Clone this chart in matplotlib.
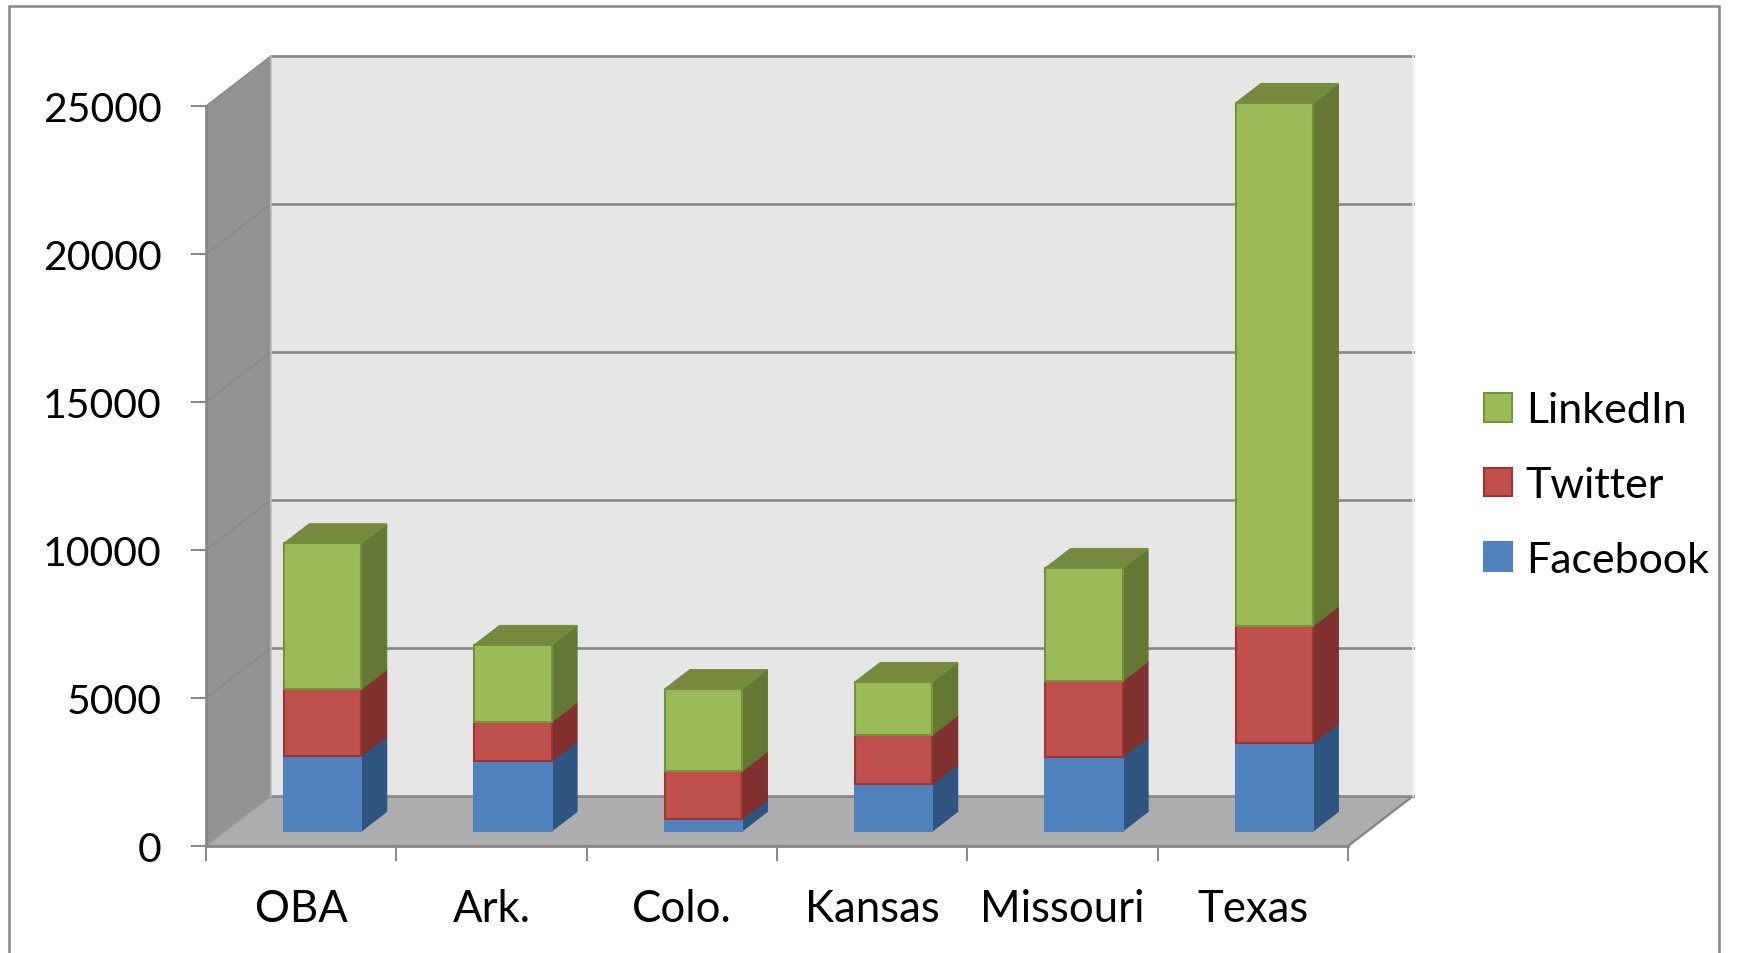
"""
Stacked bars with a fake 3D box look (old Excel style).
"""

import matplotlib
matplotlib.use("Agg")
import matplotlib.pyplot as plt
from matplotlib.patches import Patch, Rectangle

plt.rcParams["font.family"] = ["Lato", "DejaVu Sans"]

states = ["OBA", "Ark.", "Colo.", "Kansas", "Missouri", "Texas"]
facebook = [2530, 2365, 405, 1590, 2500, 2970]
twitter = [2260, 1320, 1620, 1655, 2570, 3955]
linkedin = [4930, 2600, 2770, 1790, 3815, 17670]
y_ticks = [0, 5000, 10000, 15000, 20000, 25000]

GREY = "#868686"
W, H = 1741, 954

fig = plt.figure(figsize=(W / 100, H / 100), dpi=100, facecolor="white")
ax = fig.add_axes([206 / W, 1 - 847 / H, 1142 / W, 740 / H])
ax.set_xlim(0, 6)
ax.set_ylim(0, 25000)
ax.patch.set_visible(False)
for s in ax.spines.values():
    s.set_visible(False)

# depth of the box: pixels converted to data units
DX = 65 / (1142 / 6)
DY = 50 / (740 / 25000)


def proj(x, y, d):
    return x + d * DX, y + d * DY


def poly(points, color, edge=None, lw=0, z=1):
    xs = [proj(*p)[0] for p in points]
    ys = [proj(*p)[1] for p in points]
    ax.fill(xs, ys, facecolor=color, edgecolor=edge or color, linewidth=lw,
            zorder=z, clip_on=False, joinstyle="miter")


# walls and floor
poly([(0, 0, 1), (6, 0, 1), (6, 25000, 1), (0, 25000, 1)], "#E6E6E6", z=1)
poly([(0, 0, 0), (0, 0, 1), (0, 25000, 1), (0, 25000, 0)], "#939393", z=1)
poly([(0, 0, 0), (6, 0, 0), (6, 0, 1), (0, 0, 1)], "#ADADAD", z=1)

# gridlines on the back wall and the side wall
for v in y_ticks:
    x0, y0 = proj(0, v, 0)
    x1, y1 = proj(0, v, 1)
    x2, y2 = proj(6, v, 1)
    ax.plot([x0, x1], [y0, y1], color="#8A8A8A" if v else "#9A9A9A", lw=1.0, zorder=2, clip_on=False)
    ax.plot([x1, x2], [y1, y2], color=GREY, lw=1.9, zorder=2, clip_on=False)

# box edges
ax.plot([0, 0], [0, 25000], color=GREY, lw=1.9, zorder=2, clip_on=False)
ax.plot([0, 6], [0, 0], color=GREY, lw=2.0, zorder=2, clip_on=False)
fx, fy = proj(6, 0, 1)
ax.plot([6, fx], [0, fy], color=GREY, lw=1.7, zorder=2, clip_on=False)
bx, by = proj(0, 0, 1)
tx, ty = proj(0, 25000, 1)
ax.plot([bx, tx], [by, ty], color="#BDBDBD", lw=1.2, zorder=2, clip_on=False)
rx, ry = proj(6, 25000, 1)
ax.plot([fx, rx], [fy, ry], color="#EFEFEF", lw=1.2, zorder=2, clip_on=False)

# bars
BAR_W = 77.5 / (1142 / 6)
D0, D1 = 0.33, 0.72
LIFT = 15 / (740 / 25000)
series = [
    ("Facebook", facebook, "#4F81BD", "#4F81BD", "#2F5480", "#385D8A"),
    ("Twitter", twitter, "#C0504D", "#953735", "#7F302F", "#8C3836"),
    ("LinkedIn", linkedin, "#9BBB59", "#76923C", "#647833", "#76893F"),
]
shift = D0 * DX
z = 5
for i in range(len(states)):
    cx = i + 0.5 + shift
    l, r = cx - BAR_W / 2, cx + BAR_W / 2
    base = LIFT
    dsx = (D1 - D0) * DX
    dsy = (D1 - D0) * DY
    for name, vals, face, edge, side, top in series:
        t = base + vals[i]
        ax.fill([r, r + dsx, r + dsx, r], [base, base + dsy, t + dsy, t],
                facecolor=side, edgecolor=side, lw=0.8, zorder=z, clip_on=False)
        ax.bar(cx, vals[i], BAR_W, bottom=base, facecolor=face, edgecolor=edge,
               linewidth=1.5, zorder=z + 1, clip_on=False)
        z += 2
        base = t
    ax.fill([l, r, r + dsx, l + dsx], [base, base, base + dsy, base + dsy],
            facecolor=series[2][5], edgecolor=series[2][3], lw=0.8, zorder=z, clip_on=False)
    z += 1

# ticks and labels
ax.set_yticks(y_ticks)
ax.set_yticklabels([str(v) for v in y_ticks], fontsize=29.5, color="black")
ax.tick_params(axis="y", length=10.8, width=1.4, color=GREY, pad=21)
ax.set_xticks(range(7))
ax.set_xticklabels([""] * 7)
ax.tick_params(axis="x", length=10.8, width=1.4, color=GREY)
ax.set_xticks([i + 0.5 for i in range(6)], minor=True)
ax.set_xticklabels(states, minor=True, fontsize=31.5, color="black")
ax.tick_params(axis="x", which="minor", length=0, pad=30)

handles = [Patch(facecolor=s[2], edgecolor=s[3], linewidth=1.5, label=s[0]) for s in reversed(series)]
fig.legend(handles=handles, loc="center left", bbox_to_anchor=(1484 / W, 1 - 486 / H), frameon=False,
           fontsize=31, handlelength=0.65, handleheight=0.65, handletextpad=0.32,
           labelspacing=0.85, borderpad=0, borderaxespad=0)

# outer chart border, open at the bottom of the image
fig.add_artist(Rectangle((9 / W, -0.05), 1710 / W, 1.05 - 7 / H, transform=fig.transFigure,
                         facecolor="none", edgecolor=GREY, linewidth=1.8))

fig.savefig("out.png", dpi=100)
